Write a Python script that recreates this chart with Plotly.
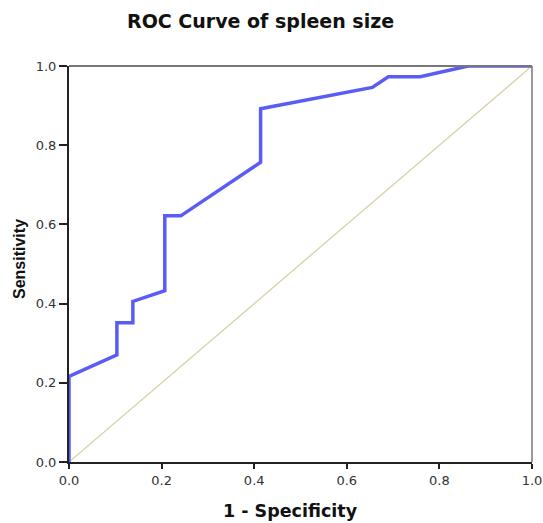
import plotly.graph_objects as go

# ROC curve points (1 - specificity, sensitivity)
fpr = [0.0, 0.0, 3/29, 3/29, 4/29, 4/29, 6/29, 6/29, 7/29, 12/29, 12/29, 19/29, 20/29, 22/29, 25/29, 1.0]
tpr = [0.0, 8/37, 10/37, 13/37, 13/37, 15/37, 16/37, 23/37, 23/37, 28/37, 33/37, 35/37, 36/37, 36/37, 1.0, 1.0]

ref_x = [0.0, 1.0]
ref_y = [0.0, 1.0]

ticks = [0.0, 0.2, 0.4, 0.6, 0.8, 1.0]
tick_text = ["0.0", "0.2", "0.4", "0.6", "0.8", "1.0"]

fig = go.Figure()
fig.add_trace(go.Scatter(x=ref_x, y=ref_y, mode="lines",
                         line=dict(color="#d6d2a4", width=1.3), showlegend=False, hoverinfo="skip"))
fig.add_trace(go.Scatter(x=fpr, y=tpr, mode="lines",
                         line=dict(color="#5a5cf6", width=3.5), showlegend=False))

sans = "Liberation Sans, Arial, sans-serif"
wide = "DejaVu Sans, sans-serif"

L, R, T, B = 69, 11, 66, 61
W, H = 543, 523
pw, ph = W - L - R, H - T - B

fig.update_layout(
    width=W, height=H,
    margin=dict(l=L, r=R, t=T, b=B),
    paper_bgcolor="white", plot_bgcolor="white",
    font=dict(family=sans, size=12, color="#222"),
)
fig.add_annotation(text="<b>ROC Curve of spleen size</b>", x=(260 - L) / pw, y=1 + (T - 21) / ph,
                   xref="paper", yref="paper", showarrow=False, xanchor="center", yanchor="middle",
                   font=dict(size=19, color="#111", family=wide))
fig.add_annotation(text="<b>1 - Specificity</b>", x=(290 - L) / pw, y=-(511 - (T + ph)) / ph,
                   xref="paper", yref="paper", showarrow=False, xanchor="center", yanchor="middle",
                   font=dict(size=17.5, color="#111", family=wide))
fig.add_annotation(text="<b>Sensitivity</b>", x=-(L - 19) / pw, y=(T + ph - 259) / ph,
                   xref="paper", yref="paper", showarrow=False, xanchor="center", yanchor="middle",
                   textangle=-90, font=dict(size=16, color="#111", family=sans))

fig.update_xaxes(
    range=[0, 1], tickvals=ticks, ticktext=tick_text, automargin=False,
    showgrid=False, zeroline=False,
    showline=True, linecolor="#222", linewidth=2, mirror=False,
    ticks="outside", ticklen=5, tickwidth=2, tickcolor="#222",
    tickfont=dict(size=13, color="#333", family=wide),
)
fig.update_yaxes(
    range=[0, 1], tickvals=ticks, ticktext=tick_text, automargin=False,
    showgrid=False, zeroline=False,
    showline=True, linecolor="#222", linewidth=2, mirror=False,
    ticks="outside", ticklen=8, tickwidth=2, tickcolor="#222",
    tickfont=dict(size=13, color="#333", family=wide),
)

# gray top and right frame
fig.add_shape(type="line", xref="paper", yref="paper", x0=0, x1=1, y0=1, y1=1,
              line=dict(color="#777", width=2))
fig.add_shape(type="line", xref="paper", yref="paper", x0=1, x1=1, y0=0, y1=1,
              line=dict(color="#777", width=1.5))

fig.write_html("out.html")
